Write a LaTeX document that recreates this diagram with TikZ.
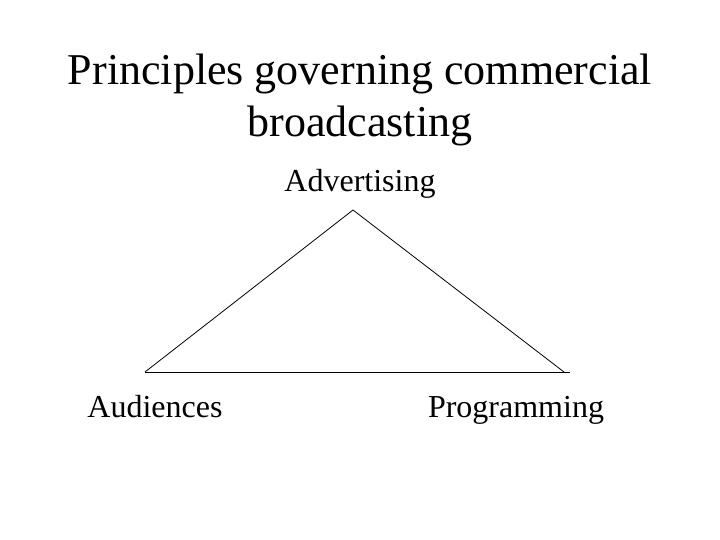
\documentclass[tikz,border=0pt]{standalone}
\usepackage{fontspec}
\setmainfont{Liberation Serif}
\usetikzlibrary{positioning}
\tikzset{
  ttl/.style={font=\fontsize{44}{52}\selectfont, align=center, inner sep=0pt, anchor=base},
  lab/.style={font=\fontsize{32}{38}\selectfont, inner sep=0pt, anchor=base},
  lnk/.style={draw, line width=0.8pt}
}

\begin{document}
\begin{tikzpicture}[x=1pt, y=-1pt]
		\useasboundingbox (0,0) rectangle (720,540);
		\node[ttl] (tit1) at (360,85) {Principles governing commercial};
		\node[ttl] (tit2) at (360,137) {broadcasting};
		\node[lab] (adv) at (360,192) {Advertising};
		\node[lab] (aud) at (155,417) {Audiences};
		\node[lab] (prog) at (516,417) {Programming};
		\coordinate (cA) at (353,210);
		\coordinate (cL) at (145,372);
		\coordinate (cR) at (564,372);
		\coordinate (cE) at (570,372);
		\draw[lnk] (cL) -- (cA);
		\draw[lnk] (cA) -- (cR);
		\draw[lnk] (cL) -- (cE);
	\end{tikzpicture}
\end{document}
